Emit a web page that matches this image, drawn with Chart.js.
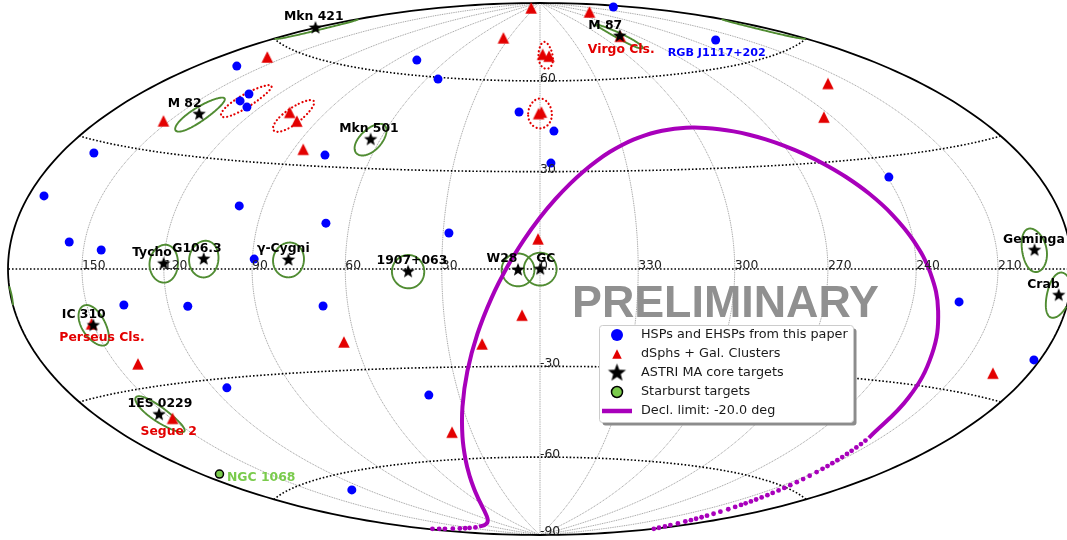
<!DOCTYPE html>
<html><head><meta charset="utf-8">
<style>html,body{margin:0;padding:0;background:#fff;overflow:hidden}canvas{display:block}</style>
<script src="https://cdn.jsdelivr.net/npm/chart.js@4"></script>
</head><body><canvas id="c" width="1067" height="540"></canvas>
<script>
// ---- values: galactic longitude / latitude in degrees ----
const hspLon = [162.2,133.0,132.2,125.6,166.2,77.0,78.0,54.0,8.9,354.6,356.2,189.1,225.8,239.4,173.4,156.0,143.2,98.2,67.6,89.4,136.0,113.2,68.0,28.2,223.2,182.6,114.8,128.6,41.2];
const hspLat = [52.9,47.8,45.7,44.5,27.3,33.4,64.9,59.4,49.3,43.0,32.7,82.0,67.4,24.6,16.4,6.4,4.7,17.6,13.4,2.8,-9.1,-10.0,-10.8,10.9,-8.3,-20.2,-32.6,-64.7,-38.6];

const dsphLon = [158.6,152.5,105.0,98.2,86.4,50.0,241.9,35.4,358.1,353.7,0.6,359.4,283.8,220.5,243.5,150.6,64.0,141.4,0.6,5.6,18.8,149.4,38.6,195.4];
const dsphLat = [56.8,37.4,44.8,42.6,34.7,87.7,83.6,75.4,69.6,68.9,48.8,49.3,74.4,50.4,42.3,-13.3,-21.5,-24.0,9.2,-14.1,-22.9,-38.1,-50.8,-24.5];

const coreNames = ["M 82","Mkn 421","Mkn 501","M 87","Tycho","G106.3","γ-Cygni","1907+063","W28","GC","Geminga","Crab","IC 310","1ES 0229"];
const coreLon = [141.4,179.83,63.6,283.78,120.1,106.3,78.2,40.4,6.7,359.94,195.1,184.56,150.18,152.94];
const coreLat = [40.6,65.03,38.86,74.49,1.4,2.7,2.6,-0.8,-0.27,-0.05,4.3,-5.78,-13.73,-36.61];

const starburstLon = [172.1];
const starburstLat = [-51.93];

const dsphRegionLon = [356.1,0,130,102];
const dsphRegionLat = [69.3,48.9,46,44];
const regionRadius = 5;

// Declination limit, continuous stretch
const declLon = [135,120,110,100,90,80,70,60,55,50,45,40,35,30,25,20,15,10,5,0,355,350,345,340,335,330,325,320,315,310,305,300,295,290,285,280,275,270,265,260,255,250,245,240,235,230,225,220,215];
const declLat = [-82.7,-82.86,-82.69,-82.29,-81.6,-80.49,-78.71,-75.71,-73.46,-70.4,-66.18,-60.33,-52.46,-42.57,-31.34,-19.82,-9.0,0.59,8.81,15.75,21.48,26.23,30.17,33.38,36.02,38.11,39.78,41.06,41.98,42.56,42.86,42.82,42.49,41.85,40.87,39.53,37.8,35.6,32.88,29.55,25.5,20.59,14.63,7.49,-0.96,-10.8,-21.78,-33.31,-44.4];
// Declination limit, stretch where the samples show as separate dots
const declDotLon = [177,174,171,166,161,156,151,143, 180.01,182,184,186,188,190,191.2,192.4,193.6,194.8,196,197.2,198.4,199.6,200.4,201.1,201.8,202.5,203.2,203.9,204.6,205.3,206,206.7,207.4,208.1,208.8,209.5,210.1,210.6,211.1,211.6,212.1,212.6,213.1,213.6,214.1,214.6];
const declDotLat = [-78.3,-79.0,-79.6,-80.4,-81.1,-81.6,-82.0,-82.5, -77.65,-77.05,-76.35,-75.7,-74.8,-73.89,-73.2,-72.55,-71.85,-71.15,-70.3,-69.4,-68.35,-67.4,-66.6,-65.95,-65.2,-64.45,-63.65,-62.8,-62.0,-61.1,-60.2,-59.25,-58.2,-57.15,-56.05,-54.85,-53.8,-52.9,-52.0,-51.05,-50.1,-49.15,-48.2,-47.2,-46.2,-45.2];

const lonTicks = [150,120,90,60,30,0,330,300,270,240,210];
const latTicks = [60,30,-30,-60,-90];
const latGrid = [-60,-30,0,30,60];

const legendLabels = ["HSPs and EHSPs from this paper","dSphs + Gal. Clusters","ASTRI MA core targets","Starburst targets","Decl. limit: -20.0 deg"];

// ---- projection (Hammer, longitude growing to the left) ----
const D2R = Math.PI/180;
function hammer(lon, lat){
  let l = ((lon+180)%360+360)%360-180;
  if (lon===180) l = 180;
  const p = lat*D2R, h = l*D2R/2;
  const d = Math.sqrt(1+Math.cos(p)*Math.cos(h));
  return {x:-Math.cos(p)*Math.sin(h)/d, y:Math.sin(p)/d};
}
const pts = (lons,lats)=>lons.map((l,i)=>hammer(l,lats[i]));
function ring(lon0,lat0,r){
  const out=[]; let prev=null;
  for(let a=0;a<=360;a+=4){
    const lon=lon0+r*Math.cos(a*D2R), lat=lat0+r*Math.sin(a*D2R);
    const nl=((lon+180)%360+360)%360-180;
    if(prev!==null && Math.abs(nl-prev)>180) out.push({x:NaN,y:NaN});
    out.push(hammer(lon,lat)); prev=nl;
  }
  return out;
}

// ---- marker images ----
function markCanvas(size,draw){
  const c=document.createElement('canvas'); c.width=c.height=size;
  const g=c.getContext('2d'); g.translate(size/2,size/2); draw(g); return c;
}
function star(R,fill){return markCanvas(Math.ceil(R*2+2),g=>{
  g.beginPath();
  for(let i=0;i<10;i++){const rr=i%2?R*0.42:R,a=-Math.PI/2+i*Math.PI/5;g.lineTo(rr*Math.cos(a),rr*Math.sin(a));}
  g.closePath();g.fillStyle=fill;g.fill();});}
function tri(w,fill){return markCanvas(Math.ceil(w+2),g=>{
  g.beginPath();g.moveTo(0,-w/2);g.lineTo(w/2,w/2);g.lineTo(-w/2,w/2);g.closePath();g.fillStyle=fill;g.fill();});}

const BLUE='#0000ff',RED='#e30000',GREEN='#508c32',LIME='#7acb4c',PURPLE='#a800bb';
const starImg=star(7,'#000'),triImg=tri(11.5,RED),legStar=star(9.5,'#000'),legTri=tri(9.5,RED);

// ---- text annotations (offsets from the source they name) ----
const BOLD='bold 12.4px "DejaVu Sans"';
const notes = coreNames.map((t,i)=>({t,lon:coreLon[i],lat:coreLat[i],dx:-31.5,dy:-7.5,c:'#000',f:BOLD}));
notes[9].dx=-4;
notes.push({t:"Virgo Cls.",lon:283.78,lat:74.49,dx:-32,dy:17,c:RED,f:BOLD});
notes.push({t:"RGB J1117+202",lon:225.8,lat:67.4,dx:-48,dy:16,c:BLUE,f:'bold 11.2px "DejaVu Sans"'});
notes.push({t:"Perseus Cls.",lon:150.18,lat:-13.73,dx:-34,dy:15.5,c:RED,f:BOLD});
notes.push({t:"Segue 2",lon:149.4,lat:-38.1,dx:-32,dy:17,c:RED,f:BOLD});
notes.push({t:"NGC 1068",lon:172.1,lat:-51.93,dx:7.5,dy:7,c:LIME,f:BOLD});

const furniture={
  id:'furniture',
  beforeDatasetsDraw(ch){
    const g=ch.ctx,X=ch.scales.x,Y=ch.scales.y;
    const P=(lon,lat)=>{const q=hammer(lon,lat);return [X.getPixelForValue(q.x),Y.getPixelForValue(q.y)];};
    g.save();
    g.strokeStyle='#a0a0a0';g.lineWidth=1;g.setLineDash([1,0.8]);
    for(const lon of lonTicks){g.beginPath();for(let a=-90;a<=90;a+=1.5){const p=P(lon,a);g.lineTo(p[0],p[1]);}g.stroke();}
    g.strokeStyle='#000';g.lineWidth=1.6;g.setLineDash([1.6,2]);
    for(const lat of latGrid){g.beginPath();for(let l=-180;l<=180;l+=2){const p=P(l===180?180:l,lat);g.lineTo(p[0],p[1]);}g.stroke();}
    g.setLineDash([]);g.lineWidth=1.8;g.beginPath();
    for(let a=-90;a<=90;a+=1){const p=P(180,a);g.lineTo(p[0],p[1]);}
    for(let a=90;a>=-90;a-=1){const p=P(-179.999,a);g.lineTo(p[0],p[1]);}
    g.closePath();g.stroke();
    g.restore();
  },
  afterDatasetsDraw(ch){
    const g=ch.ctx,X=ch.scales.x,Y=ch.scales.y;
    const P=(lon,lat)=>{const q=hammer(lon,lat);return [X.getPixelForValue(q.x),Y.getPixelForValue(q.y)];};
    g.save();
    g.textBaseline='alphabetic';g.textAlign='left';
    g.font='12.4px "DejaVu Sans"';g.fillStyle='#222';
    for(const lon of lonTicks){const p=P(lon,0);g.fillText(String(lon),p[0],p[1]);}
    for(const lat of latTicks){const p=P(0,lat);g.fillText(String(lat),p[0],p[1]+(lat===-90?0:1));}
    g.font='bold 44.8px "Liberation Sans"';g.fillStyle='#909090';g.fillText('PRELIMINARY',572,317);
    for(const n of notes){const p=P(n.lon,n.lat);g.font=n.f;g.fillStyle=n.c;g.fillText(n.t,p[0]+n.dx,p[1]+n.dy);}
    // legend
    const L=599.5,T=325.5,W=254,H=97;
    g.fillStyle='#8c8c8c';g.beginPath();g.roundRect(L+3,T+3,W,H,3);g.fill();
    g.fillStyle='#fff';g.strokeStyle='#cccccc';g.lineWidth=1;g.beginPath();g.roundRect(L,T,W,H,3);g.fill();g.stroke();
    const rows=[335,354,373,392,411];
    g.font='12.8px "DejaVu Sans"';g.fillStyle='#1a1a1a';g.textBaseline='middle';
    legendLabels.forEach((t,i)=>g.fillText(t,641,rows[i]));
    const draw=(o,y,r)=>Chart.helpers.drawPoint(g,{pointStyle:o,rotation:0,radius:r,borderWidth:0},617,y);
    g.fillStyle=BLUE;g.strokeStyle=BLUE;g.lineWidth=0;
    g.beginPath();g.arc(617,rows[0],6,0,7);g.fill();
    draw(legTri,rows[1],6);draw(legStar,rows[2],9);
    g.fillStyle=LIME;g.strokeStyle='#000';g.lineWidth=1.5;g.beginPath();g.arc(617,rows[3],5.5,0,7);g.fill();g.stroke();
    g.strokeStyle=PURPLE;g.lineWidth=4.5;g.beginPath();g.moveTo(602,rows[4]);g.lineTo(632,rows[4]);g.stroke();
    g.restore();
  }
};

// ---- datasets (listed bottom-most first) ----
const datasets=[];
const line=(data,color,w,extra)=>Object.assign({data,showLine:true,borderColor:color,borderWidth:w,pointRadius:0,spanGaps:false,fill:false,tension:0.01},extra||{});
coreLon.forEach((l,i)=>datasets.push(line(ring(l,coreLat[i],regionRadius),GREEN,1.9,{label:coreNames[i]+' field'})));
dsphRegionLon.forEach((l,i)=>datasets.push(line(ring(l,dsphRegionLat[i],regionRadius),RED,2.2,{label:'dSph region',borderDash:[0.1,3.8],borderCapStyle:'round'})));
datasets.push(line(pts(declLon,declLat),PURPLE,4,{label:legendLabels[4],tension:0.4}));
datasets.push({label:legendLabels[4]+' samples',data:pts(declDotLon,declDotLat),showLine:false,pointRadius:2.4,pointBorderWidth:0,backgroundColor:PURPLE});
datasets.push({label:legendLabels[0],data:pts(hspLon,hspLat),showLine:false,pointRadius:4.5,pointBorderWidth:0,backgroundColor:BLUE});
datasets.push({label:legendLabels[1],data:pts(dsphLon,dsphLat),showLine:false,pointStyle:triImg,pointRadius:6});
datasets.push({label:legendLabels[2],data:pts(coreLon,coreLat),showLine:false,pointStyle:starImg,pointRadius:6});
datasets.push({label:legendLabels[3],data:pts(starburstLon,starburstLat),showLine:false,pointRadius:4,pointBorderWidth:1.5,borderColor:'#000',backgroundColor:LIME});
datasets.forEach((d,i)=>{d.order=datasets.length-i;});

new Chart(document.getElementById('c'),{
  type:'scatter',
  data:{datasets},
  options:{
    responsive:false,animation:false,devicePixelRatio:1,
    layout:{padding:0,autoPadding:false},
    plugins:{legend:{display:false},tooltip:{enabled:false}},
    scales:{
      x:{type:'linear',display:false,min:-540/532,max:527/532},
      y:{type:'linear',display:false,min:-271/266,max:269/266}
    }
  },
  plugins:[furniture]
});
</script></body></html>
